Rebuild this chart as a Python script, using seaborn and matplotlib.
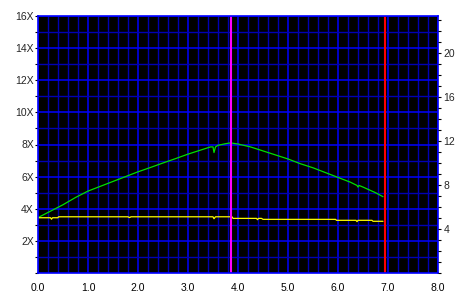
import matplotlib
matplotlib.use("Agg")
import matplotlib.pyplot as plt
from matplotlib.ticker import MultipleLocator, FixedLocator, FuncFormatter
import seaborn as sns
import pandas as pd

# ---- data ----
speed_pos = [0.0, 0.25, 0.5, 0.75, 1.0, 1.25, 1.5, 1.75, 2.0, 2.25, 2.5, 2.75,
             3.0, 3.25, 3.45, 3.5, 3.52, 3.55, 3.6, 3.75, 3.85, 4.0, 4.25, 4.5,
             4.75, 5.0, 5.25, 5.5, 5.75, 6.0, 6.25, 6.38, 6.4, 6.42, 6.5, 6.75, 6.9]
speed_val = [3.45, 3.85, 4.25, 4.7, 5.1, 5.4, 5.7, 6.0, 6.3, 6.57, 6.85, 7.12,
             7.4, 7.65, 7.85, 7.85, 7.5, 7.85, 7.95, 8.05, 8.1, 8.03, 7.85, 7.6,
             7.35, 7.1, 6.8, 6.55, 6.25, 5.95, 5.65, 5.45, 5.35, 5.45, 5.35, 5.0, 4.75]

cpu_pos = [0.0, 0.25, 0.27, 0.29, 0.4, 0.41, 1.8, 1.83, 1.86, 3.5, 3.52, 3.55,
           3.88, 3.9, 4.37, 4.39, 4.41, 4.47, 4.5, 5.95, 5.97, 6.36, 6.38, 6.4,
           6.68, 6.7, 6.9]
cpu_val = [3.44, 3.44, 3.35, 3.44, 3.44, 3.5, 3.5, 3.45, 3.5, 3.5, 3.38, 3.5,
           3.5, 3.4, 3.4, 3.32, 3.4, 3.4, 3.34, 3.34, 3.28, 3.28, 3.2, 3.28,
           3.28, 3.22, 3.22]

marker_mid = 3.85
marker_end = 6.93

x_ticks = [0, 1, 2, 3, 4, 5, 6, 7, 8]
left_ticks = [2, 4, 6, 8, 10, 12, 14, 16]
right_ticks = [4, 8, 12, 16, 20]

df_speed = pd.DataFrame({"pos": speed_pos, "val": speed_val})
df_cpu = pd.DataFrame({"pos": cpu_pos, "val": cpu_val})

sns.set_style("white")
plt.rcParams['font.family'] = ['Liberation Sans', 'DejaVu Sans']

fig = plt.figure(figsize=(4.63, 2.93), dpi=100, facecolor="white")
ax = fig.add_axes([38/463, 20/293, 400/463, 257/293])
ax.set_facecolor("black")

BLUE = "#0000FF"
DBLUE = "#0000B4"

ax.set_xlim(0, 8)
ax.set_ylim(0, 16)

ax.xaxis.set_major_locator(FixedLocator(x_ticks))
ax.xaxis.set_minor_locator(MultipleLocator(0.2))
ax.xaxis.set_major_formatter(FuncFormatter(lambda v, p: f"{v:.1f}"))
ax.yaxis.set_major_locator(FixedLocator(left_ticks))
ax.yaxis.set_minor_locator(MultipleLocator(1))
ax.yaxis.set_major_formatter(FuncFormatter(lambda v, p: f"{int(v)}X"))

ax.grid(True, which="major", axis="x", color=BLUE, lw=1.1)
ax.grid(True, which="minor", axis="x", color=DBLUE, lw=1.0)
ax.grid(True, which="major", axis="y", color=BLUE, lw=1.1)
ax.grid(True, which="minor", axis="y", color=DBLUE, lw=1.0)
ax.set_axisbelow(True)

sns.lineplot(data=df_speed, x="pos", y="val", ax=ax, color="#00E000", lw=0.9,
             estimator=None, sort=False)
sns.lineplot(data=df_cpu, x="pos", y="val", ax=ax, color="#FFFF00", lw=0.9,
             estimator=None, sort=False)
ax.axvline(marker_mid, color="#FF00FF", lw=1.5)
ax.axvline(marker_end, color="#FF0000", lw=1.5)

ax.set_xlabel("")
ax.set_ylabel("")

for s in ax.spines.values():
    s.set_color(BLUE)
    s.set_linewidth(1.2)

ax.tick_params(axis="x", which="both", length=0, pad=7, labelsize=7.5, colors="black")
ax.tick_params(axis="y", which="both", direction="out", length=2.5, width=0.8,
               color="black", pad=0.5, labelsize=7.5)

ax2 = ax.twinx()
ax2.set_ylim(0, 23.4)
ax2.yaxis.set_major_locator(FixedLocator(right_ticks))
ax2.yaxis.set_minor_locator(MultipleLocator(1))
ax2.tick_params(axis="y", which="both", direction="out", length=2.5, width=0.8,
                color="black", pad=1.5, labelsize=7.5)
for s in ax2.spines.values():
    s.set_visible(False)

fig.savefig("out.png", dpi=100, facecolor="white")
